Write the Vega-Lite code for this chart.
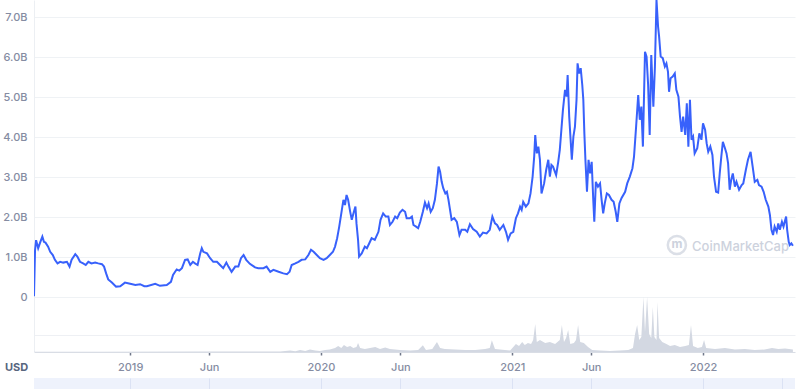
{
  "$schema": "https://vega.github.io/schema/vega-lite/v6.json",
  "padding": {"left": 0, "top": 0, "right": 5, "bottom": 0},
  "background": "white",
  "bounds": "flush",
  "spacing": 26,
  "config": {"view": {"stroke": null}, "font": "Inter"},
  "datasets": {
    "price": [
      {"date": "2018-07-01", "cap": 0.02}, {"date": "2018-07-03", "cap": 1.17}, {"date": "2018-07-05", "cap": 1.42}, {"date": "2018-07-09", "cap": 1.22},
      {"date": "2018-07-13", "cap": 1.37}, {"date": "2018-07-17", "cap": 1.51}, {"date": "2018-07-20", "cap": 1.38}, {"date": "2018-07-23", "cap": 1.36},
      {"date": "2018-07-28", "cap": 1.26}, {"date": "2018-08-01", "cap": 1.13}, {"date": "2018-08-06", "cap": 1.05}, {"date": "2018-08-10", "cap": 0.93},
      {"date": "2018-08-15", "cap": 0.84}, {"date": "2018-08-20", "cap": 0.88}, {"date": "2018-08-26", "cap": 0.86}, {"date": "2018-09-02", "cap": 0.88},
      {"date": "2018-09-07", "cap": 0.76}, {"date": "2018-09-11", "cap": 0.93}, {"date": "2018-09-18", "cap": 1.07}, {"date": "2018-09-22", "cap": 1.01},
      {"date": "2018-09-27", "cap": 0.88}, {"date": "2018-10-03", "cap": 0.84}, {"date": "2018-10-08", "cap": 0.80}, {"date": "2018-10-13", "cap": 0.88},
      {"date": "2018-10-19", "cap": 0.84}, {"date": "2018-10-26", "cap": 0.86}, {"date": "2018-11-01", "cap": 0.84}, {"date": "2018-11-08", "cap": 0.82},
      {"date": "2018-11-12", "cap": 0.76}, {"date": "2018-11-16", "cap": 0.59}, {"date": "2018-11-20", "cap": 0.44}, {"date": "2018-11-27", "cap": 0.36},
      {"date": "2018-12-05", "cap": 0.26}, {"date": "2018-12-13", "cap": 0.27}, {"date": "2018-12-22", "cap": 0.36}, {"date": "2019-01-01", "cap": 0.33},
      {"date": "2019-01-11", "cap": 0.30}, {"date": "2019-01-20", "cap": 0.32}, {"date": "2019-01-28", "cap": 0.27}, {"date": "2019-02-02", "cap": 0.27},
      {"date": "2019-02-18", "cap": 0.33}, {"date": "2019-02-27", "cap": 0.28}, {"date": "2019-03-12", "cap": 0.30}, {"date": "2019-03-20", "cap": 0.38},
      {"date": "2019-03-24", "cap": 0.55}, {"date": "2019-03-28", "cap": 0.63}, {"date": "2019-03-31", "cap": 0.69}, {"date": "2019-04-05", "cap": 0.66},
      {"date": "2019-04-10", "cap": 0.72}, {"date": "2019-04-16", "cap": 0.93}, {"date": "2019-04-21", "cap": 0.94}, {"date": "2019-04-26", "cap": 0.80},
      {"date": "2019-05-01", "cap": 0.88}, {"date": "2019-05-05", "cap": 0.84}, {"date": "2019-05-10", "cap": 0.80}, {"date": "2019-05-15", "cap": 1.09},
      {"date": "2019-05-18", "cap": 1.22}, {"date": "2019-05-21", "cap": 1.13}, {"date": "2019-05-28", "cap": 1.09}, {"date": "2019-06-03", "cap": 0.97},
      {"date": "2019-06-09", "cap": 0.88}, {"date": "2019-06-16", "cap": 0.88}, {"date": "2019-06-22", "cap": 0.80}, {"date": "2019-06-28", "cap": 0.72},
      {"date": "2019-07-04", "cap": 0.86}, {"date": "2019-07-08", "cap": 0.76}, {"date": "2019-07-14", "cap": 0.63}, {"date": "2019-07-21", "cap": 0.76},
      {"date": "2019-07-27", "cap": 0.76}, {"date": "2019-08-01", "cap": 0.97}, {"date": "2019-08-06", "cap": 1.05}, {"date": "2019-08-11", "cap": 0.93},
      {"date": "2019-08-18", "cap": 0.83}, {"date": "2019-08-26", "cap": 0.76}, {"date": "2019-08-28", "cap": 0.74}, {"date": "2019-09-03", "cap": 0.72},
      {"date": "2019-09-13", "cap": 0.72}, {"date": "2019-09-19", "cap": 0.76}, {"date": "2019-09-26", "cap": 0.63}, {"date": "2019-10-02", "cap": 0.68},
      {"date": "2019-10-12", "cap": 0.63}, {"date": "2019-10-21", "cap": 0.59}, {"date": "2019-10-28", "cap": 0.57}, {"date": "2019-11-02", "cap": 0.63},
      {"date": "2019-11-06", "cap": 0.80}, {"date": "2019-11-13", "cap": 0.84}, {"date": "2019-11-19", "cap": 0.88}, {"date": "2019-11-25", "cap": 0.93},
      {"date": "2019-12-02", "cap": 0.94}, {"date": "2019-12-08", "cap": 1.05}, {"date": "2019-12-13", "cap": 1.18}, {"date": "2019-12-18", "cap": 1.13},
      {"date": "2019-12-24", "cap": 1.05}, {"date": "2019-12-30", "cap": 0.97}, {"date": "2020-01-06", "cap": 0.93}, {"date": "2020-01-12", "cap": 0.97},
      {"date": "2020-01-18", "cap": 1.05}, {"date": "2020-01-24", "cap": 1.13}, {"date": "2020-01-28", "cap": 1.26}, {"date": "2020-02-01", "cap": 1.47},
      {"date": "2020-02-05", "cap": 1.76}, {"date": "2020-02-10", "cap": 2.18}, {"date": "2020-02-13", "cap": 2.43}, {"date": "2020-02-16", "cap": 2.30},
      {"date": "2020-02-19", "cap": 2.55}, {"date": "2020-02-22", "cap": 2.43}, {"date": "2020-02-26", "cap": 2.13}, {"date": "2020-02-29", "cap": 1.93},
      {"date": "2020-03-04", "cap": 2.13}, {"date": "2020-03-07", "cap": 2.26}, {"date": "2020-03-09", "cap": 1.84}, {"date": "2020-03-12", "cap": 1.43},
      {"date": "2020-03-14", "cap": 1.01}, {"date": "2020-03-19", "cap": 1.09}, {"date": "2020-03-25", "cap": 1.26}, {"date": "2020-03-29", "cap": 1.22},
      {"date": "2020-04-07", "cap": 1.47}, {"date": "2020-04-13", "cap": 1.43}, {"date": "2020-04-20", "cap": 1.63}, {"date": "2020-04-24", "cap": 1.93},
      {"date": "2020-04-29", "cap": 2.09}, {"date": "2020-05-04", "cap": 2.01}, {"date": "2020-05-09", "cap": 2.01}, {"date": "2020-05-12", "cap": 1.80},
      {"date": "2020-05-17", "cap": 1.88}, {"date": "2020-05-22", "cap": 2.01}, {"date": "2020-05-26", "cap": 1.97}, {"date": "2020-05-31", "cap": 2.11},
      {"date": "2020-06-05", "cap": 2.18}, {"date": "2020-06-10", "cap": 2.13}, {"date": "2020-06-13", "cap": 1.97}, {"date": "2020-06-19", "cap": 1.97},
      {"date": "2020-06-23", "cap": 2.01}, {"date": "2020-06-26", "cap": 1.80}, {"date": "2020-07-01", "cap": 1.76}, {"date": "2020-07-05", "cap": 1.72},
      {"date": "2020-07-09", "cap": 1.88}, {"date": "2020-07-14", "cap": 2.13}, {"date": "2020-07-18", "cap": 2.36}, {"date": "2020-07-22", "cap": 2.22},
      {"date": "2020-07-25", "cap": 2.34}, {"date": "2020-07-29", "cap": 2.13}, {"date": "2020-08-02", "cap": 2.22}, {"date": "2020-08-06", "cap": 2.43},
      {"date": "2020-08-10", "cap": 2.84}, {"date": "2020-08-13", "cap": 3.26}, {"date": "2020-08-16", "cap": 3.13}, {"date": "2020-08-19", "cap": 2.88},
      {"date": "2020-08-22", "cap": 2.72}, {"date": "2020-08-26", "cap": 2.59}, {"date": "2020-08-29", "cap": 2.63}, {"date": "2020-09-01", "cap": 2.43},
      {"date": "2020-09-04", "cap": 2.18}, {"date": "2020-09-07", "cap": 1.93}, {"date": "2020-09-12", "cap": 1.97}, {"date": "2020-09-17", "cap": 1.88},
      {"date": "2020-09-22", "cap": 1.55}, {"date": "2020-09-26", "cap": 1.68}, {"date": "2020-10-03", "cap": 1.68}, {"date": "2020-10-07", "cap": 1.63},
      {"date": "2020-10-12", "cap": 1.82}, {"date": "2020-10-18", "cap": 1.70}, {"date": "2020-10-25", "cap": 1.63}, {"date": "2020-10-31", "cap": 1.51},
      {"date": "2020-11-06", "cap": 1.61}, {"date": "2020-11-13", "cap": 1.59}, {"date": "2020-11-19", "cap": 1.68}, {"date": "2020-11-24", "cap": 2.01},
      {"date": "2020-11-29", "cap": 1.84}, {"date": "2020-12-03", "cap": 1.80}, {"date": "2020-12-08", "cap": 1.68}, {"date": "2020-12-15", "cap": 1.80},
      {"date": "2020-12-20", "cap": 1.63}, {"date": "2020-12-24", "cap": 1.43}, {"date": "2020-12-29", "cap": 1.59}, {"date": "2021-01-03", "cap": 1.63},
      {"date": "2021-01-08", "cap": 1.97}, {"date": "2021-01-12", "cap": 2.09}, {"date": "2021-01-16", "cap": 2.26}, {"date": "2021-01-19", "cap": 2.18},
      {"date": "2021-01-22", "cap": 2.38}, {"date": "2021-01-27", "cap": 2.26}, {"date": "2021-02-01", "cap": 2.34}, {"date": "2021-02-05", "cap": 2.59},
      {"date": "2021-02-09", "cap": 3.01}, {"date": "2021-02-12", "cap": 3.51}, {"date": "2021-02-14", "cap": 4.05}, {"date": "2021-02-17", "cap": 3.59},
      {"date": "2021-02-20", "cap": 3.76}, {"date": "2021-02-23", "cap": 3.43}, {"date": "2021-02-26", "cap": 2.59}, {"date": "2021-03-03", "cap": 2.84},
      {"date": "2021-03-07", "cap": 3.18}, {"date": "2021-03-11", "cap": 3.43}, {"date": "2021-03-14", "cap": 3.01}, {"date": "2021-03-17", "cap": 3.30},
      {"date": "2021-03-20", "cap": 3.26}, {"date": "2021-03-26", "cap": 3.05}, {"date": "2021-03-30", "cap": 3.38}, {"date": "2021-04-02", "cap": 3.68},
      {"date": "2021-04-05", "cap": 4.18}, {"date": "2021-04-08", "cap": 4.68}, {"date": "2021-04-12", "cap": 5.18}, {"date": "2021-04-15", "cap": 5.01},
      {"date": "2021-04-17", "cap": 5.55}, {"date": "2021-04-20", "cap": 4.51}, {"date": "2021-04-25", "cap": 3.43}, {"date": "2021-04-28", "cap": 4.01},
      {"date": "2021-05-01", "cap": 4.26}, {"date": "2021-05-04", "cap": 4.93}, {"date": "2021-05-06", "cap": 5.84}, {"date": "2021-05-09", "cap": 5.59},
      {"date": "2021-05-12", "cap": 5.72}, {"date": "2021-05-15", "cap": 5.30}, {"date": "2021-05-17", "cap": 4.93}, {"date": "2021-05-19", "cap": 4.09},
      {"date": "2021-05-21", "cap": 3.43}, {"date": "2021-05-24", "cap": 2.63}, {"date": "2021-05-27", "cap": 3.43}, {"date": "2021-05-30", "cap": 3.09},
      {"date": "2021-06-02", "cap": 3.38}, {"date": "2021-06-05", "cap": 2.43}, {"date": "2021-06-07", "cap": 1.88}, {"date": "2021-06-10", "cap": 2.88},
      {"date": "2021-06-14", "cap": 2.76}, {"date": "2021-06-18", "cap": 2.84}, {"date": "2021-06-21", "cap": 2.43}, {"date": "2021-06-24", "cap": 2.09},
      {"date": "2021-06-27", "cap": 2.34}, {"date": "2021-07-01", "cap": 2.59}, {"date": "2021-07-05", "cap": 2.55}, {"date": "2021-07-10", "cap": 2.43},
      {"date": "2021-07-14", "cap": 2.38}, {"date": "2021-07-18", "cap": 2.13}, {"date": "2021-07-21", "cap": 1.88}, {"date": "2021-07-25", "cap": 2.34},
      {"date": "2021-07-29", "cap": 2.47}, {"date": "2021-08-05", "cap": 2.63}, {"date": "2021-08-09", "cap": 2.84}, {"date": "2021-08-14", "cap": 3.01},
      {"date": "2021-08-19", "cap": 3.22}, {"date": "2021-08-22", "cap": 3.51}, {"date": "2021-08-26", "cap": 4.26}, {"date": "2021-08-30", "cap": 5.05},
      {"date": "2021-09-02", "cap": 4.43}, {"date": "2021-09-05", "cap": 4.76}, {"date": "2021-09-08", "cap": 3.76}, {"date": "2021-09-12", "cap": 6.13},
      {"date": "2021-09-15", "cap": 6.01}, {"date": "2021-09-18", "cap": 5.30}, {"date": "2021-09-21", "cap": 4.05}, {"date": "2021-09-24", "cap": 6.05},
      {"date": "2021-09-28", "cap": 4.76}, {"date": "2021-10-01", "cap": 5.76}, {"date": "2021-10-04", "cap": 7.43}, {"date": "2021-10-07", "cap": 6.76},
      {"date": "2021-10-09", "cap": 6.51}, {"date": "2021-10-12", "cap": 6.01}, {"date": "2021-10-16", "cap": 5.97}, {"date": "2021-10-20", "cap": 5.76},
      {"date": "2021-10-23", "cap": 5.84}, {"date": "2021-10-26", "cap": 5.63}, {"date": "2021-10-28", "cap": 5.13}, {"date": "2021-10-31", "cap": 5.47},
      {"date": "2021-11-04", "cap": 5.51}, {"date": "2021-11-08", "cap": 5.59}, {"date": "2021-11-11", "cap": 5.18}, {"date": "2021-11-15", "cap": 5.01},
      {"date": "2021-11-18", "cap": 4.51}, {"date": "2021-11-21", "cap": 4.13}, {"date": "2021-11-24", "cap": 4.51}, {"date": "2021-11-28", "cap": 4.05},
      {"date": "2021-12-01", "cap": 4.84}, {"date": "2021-12-04", "cap": 3.76}, {"date": "2021-12-07", "cap": 4.93}, {"date": "2021-12-10", "cap": 3.93},
      {"date": "2021-12-13", "cap": 4.01}, {"date": "2021-12-16", "cap": 3.59}, {"date": "2021-12-21", "cap": 3.72}, {"date": "2021-12-25", "cap": 4.09},
      {"date": "2021-12-29", "cap": 3.93}, {"date": "2022-01-01", "cap": 4.34}, {"date": "2022-01-05", "cap": 4.18}, {"date": "2022-01-08", "cap": 3.84},
      {"date": "2022-01-11", "cap": 3.63}, {"date": "2022-01-15", "cap": 3.76}, {"date": "2022-01-19", "cap": 3.55}, {"date": "2022-01-22", "cap": 3.01},
      {"date": "2022-01-26", "cap": 2.63}, {"date": "2022-01-30", "cap": 2.61}, {"date": "2022-02-02", "cap": 3.09}, {"date": "2022-02-05", "cap": 3.51},
      {"date": "2022-02-08", "cap": 3.88}, {"date": "2022-02-12", "cap": 3.72}, {"date": "2022-02-15", "cap": 3.59}, {"date": "2022-02-18", "cap": 3.34},
      {"date": "2022-02-21", "cap": 2.68}, {"date": "2022-02-24", "cap": 2.93}, {"date": "2022-02-27", "cap": 3.09}, {"date": "2022-03-03", "cap": 2.76},
      {"date": "2022-03-06", "cap": 2.88}, {"date": "2022-03-11", "cap": 2.68}, {"date": "2022-03-16", "cap": 2.80}, {"date": "2022-03-19", "cap": 2.84},
      {"date": "2022-03-24", "cap": 3.18}, {"date": "2022-03-28", "cap": 3.43}, {"date": "2022-04-02", "cap": 3.63}, {"date": "2022-04-06", "cap": 3.26},
      {"date": "2022-04-10", "cap": 2.88}, {"date": "2022-04-15", "cap": 2.93}, {"date": "2022-04-18", "cap": 2.80}, {"date": "2022-04-23", "cap": 2.76},
      {"date": "2022-04-27", "cap": 2.63}, {"date": "2022-05-01", "cap": 2.43}, {"date": "2022-05-06", "cap": 2.26}, {"date": "2022-05-09", "cap": 2.05},
      {"date": "2022-05-12", "cap": 1.68}, {"date": "2022-05-15", "cap": 1.55}, {"date": "2022-05-18", "cap": 1.76}, {"date": "2022-05-22", "cap": 1.63},
      {"date": "2022-05-25", "cap": 1.84}, {"date": "2022-05-28", "cap": 1.68}, {"date": "2022-06-01", "cap": 1.88}, {"date": "2022-06-04", "cap": 1.76},
      {"date": "2022-06-09", "cap": 2.01}, {"date": "2022-06-11", "cap": 1.68}, {"date": "2022-06-14", "cap": 1.38}, {"date": "2022-06-16", "cap": 1.30},
      {"date": "2022-06-19", "cap": 1.34}, {"date": "2022-06-22", "cap": 1.28}
    ],
    "volume": [
      {"date": "2018-07-01", "volume": 0.012}, {"date": "2018-11-05", "volume": 0.018}, {"date": "2019-05-15", "volume": 0.024}, {"date": "2019-10-15", "volume": 0.03},
      {"date": "2019-11-03", "volume": 0.089}, {"date": "2019-11-13", "volume": 0.047}, {"date": "2019-11-22", "volume": 0.118}, {"date": "2019-12-02", "volume": 0.059},
      {"date": "2019-12-11", "volume": 0.148}, {"date": "2019-12-21", "volume": 0.089}, {"date": "2019-12-30", "volume": 0.059}, {"date": "2020-01-09", "volume": 0.118},
      {"date": "2020-01-18", "volume": 0.148}, {"date": "2020-01-28", "volume": 0.236}, {"date": "2020-02-03", "volume": 0.354}, {"date": "2020-02-09", "volume": 0.236},
      {"date": "2020-02-14", "volume": 0.413}, {"date": "2020-02-20", "volume": 0.295}, {"date": "2020-02-26", "volume": 0.354}, {"date": "2020-03-03", "volume": 0.236},
      {"date": "2020-03-09", "volume": 0.295}, {"date": "2020-03-12", "volume": 0.531}, {"date": "2020-03-16", "volume": 0.236}, {"date": "2020-03-25", "volume": 0.177},
      {"date": "2020-04-04", "volume": 0.236}, {"date": "2020-04-14", "volume": 0.295}, {"date": "2020-04-23", "volume": 0.177}, {"date": "2020-05-03", "volume": 0.266},
      {"date": "2020-05-12", "volume": 0.177}, {"date": "2020-05-22", "volume": 0.148}, {"date": "2020-05-31", "volume": 0.118}, {"date": "2020-06-20", "volume": 0.089},
      {"date": "2020-07-05", "volume": 0.118}, {"date": "2020-07-14", "volume": 0.395}, {"date": "2020-07-20", "volume": 0.118}, {"date": "2020-08-01", "volume": 0.177},
      {"date": "2020-08-10", "volume": 0.59}, {"date": "2020-08-16", "volume": 0.236}, {"date": "2020-08-25", "volume": 0.177}, {"date": "2020-09-14", "volume": 0.148},
      {"date": "2020-10-03", "volume": 0.118}, {"date": "2020-10-22", "volume": 0.118}, {"date": "2020-11-10", "volume": 0.177}, {"date": "2020-11-19", "volume": 0.236},
      {"date": "2020-11-23", "volume": 0.69}, {"date": "2020-11-29", "volume": 0.177}, {"date": "2020-12-18", "volume": 0.118}, {"date": "2020-12-28", "volume": 0.089},
      {"date": "2021-01-03", "volume": 0.295}, {"date": "2021-01-08", "volume": 0.472}, {"date": "2021-01-14", "volume": 0.354}, {"date": "2021-01-20", "volume": 0.59},
      {"date": "2021-01-25", "volume": 0.413}, {"date": "2021-01-31", "volume": 0.531}, {"date": "2021-02-06", "volume": 0.472}, {"date": "2021-02-10", "volume": 0.708},
      {"date": "2021-02-14", "volume": 1.652}, {"date": "2021-02-17", "volume": 0.59}, {"date": "2021-02-23", "volume": 0.708}, {"date": "2021-03-05", "volume": 0.531},
      {"date": "2021-03-14", "volume": 0.59}, {"date": "2021-03-24", "volume": 0.472}, {"date": "2021-04-02", "volume": 0.708}, {"date": "2021-04-06", "volume": 1.593},
      {"date": "2021-04-10", "volume": 0.59}, {"date": "2021-04-14", "volume": 0.826}, {"date": "2021-04-18", "volume": 1.298}, {"date": "2021-04-22", "volume": 0.472},
      {"date": "2021-04-29", "volume": 0.531}, {"date": "2021-05-03", "volume": 0.708}, {"date": "2021-05-07", "volume": 1.593}, {"date": "2021-05-11", "volume": 0.59},
      {"date": "2021-05-18", "volume": 0.531}, {"date": "2021-05-26", "volume": 0.295}, {"date": "2021-06-03", "volume": 0.118}, {"date": "2021-06-18", "volume": 0.089},
      {"date": "2021-07-07", "volume": 0.059}, {"date": "2021-07-26", "volume": 0.089}, {"date": "2021-08-11", "volume": 0.118}, {"date": "2021-08-20", "volume": 0.236},
      {"date": "2021-08-24", "volume": 1.062}, {"date": "2021-08-28", "volume": 1.593}, {"date": "2021-09-01", "volume": 0.708}, {"date": "2021-09-05", "volume": 0.885},
      {"date": "2021-09-09", "volume": 3.245}, {"date": "2021-09-12", "volume": 1.18}, {"date": "2021-09-16", "volume": 3.245}, {"date": "2021-09-20", "volume": 1.062},
      {"date": "2021-09-24", "volume": 0.826}, {"date": "2021-09-27", "volume": 2.655}, {"date": "2021-09-30", "volume": 0.885}, {"date": "2021-10-04", "volume": 0.708},
      {"date": "2021-10-06", "volume": 2.95}, {"date": "2021-10-09", "volume": 0.826}, {"date": "2021-10-15", "volume": 0.59}, {"date": "2021-10-23", "volume": 0.472},
      {"date": "2021-10-30", "volume": 0.354}, {"date": "2021-11-08", "volume": 0.413}, {"date": "2021-11-18", "volume": 0.295}, {"date": "2021-11-28", "volume": 0.354},
      {"date": "2021-12-05", "volume": 0.413}, {"date": "2021-12-09", "volume": 1.593}, {"date": "2021-12-13", "volume": 0.354}, {"date": "2021-12-22", "volume": 0.236},
      {"date": "2021-12-30", "volume": 0.295}, {"date": "2022-01-03", "volume": 0.708}, {"date": "2022-01-07", "volume": 0.236}, {"date": "2022-01-24", "volume": 0.177},
      {"date": "2022-02-12", "volume": 0.236}, {"date": "2022-03-03", "volume": 0.148}, {"date": "2022-03-22", "volume": 0.177}, {"date": "2022-04-10", "volume": 0.118},
      {"date": "2022-04-29", "volume": 0.148}, {"date": "2022-05-13", "volume": 0.236}, {"date": "2022-05-25", "volume": 0.177}, {"date": "2022-06-07", "volume": 0.207},
      {"date": "2022-06-22", "volume": 0.148}
    ]
  },
  "vconcat": [
    {
      "width": 761,
      "height": 352,
      "layer": [
        {
          "data": {"name": "volume"},
          "mark": {"type": "area", "color": "#d3d8e2", "interpolate": "linear"},
          "encoding": {
            "x": {
              "field": "date", "type": "temporal",
              "scale": {"type": "utc", "domain": [{"year": 2018, "month": 7, "date": 1, "utc": true}, {"year": 2022, "month": 6, "date": 26, "utc": true}]},
              "axis": {
                "values": [
                  {"year": 2019, "month": 1, "date": 1, "utc": true}, {"year": 2019, "month": 6, "date": 1, "utc": true},
                  {"year": 2020, "month": 1, "date": 1, "utc": true}, {"year": 2020, "month": 6, "date": 1, "utc": true},
                  {"year": 2021, "month": 1, "date": 1, "utc": true}, {"year": 2021, "month": 6, "date": 1, "utc": true},
                  {"year": 2022, "month": 1, "date": 1, "utc": true}
                ],
                "labelExpr": "utcFormat(datum.value, '%m') == '01' ? utcFormat(datum.value, '%Y') : utcFormat(datum.value, '%b')",
                "grid": false, "domainColor": "#d9dde5", "tickColor": "#6f7789", "tickSize": 3, "tickWidth": 1.5,
                "labelPadding": 6, "labelFontSize": 11, "labelColor": "#858ca2", "labelFontWeight": 500, "labelFlush": false,
                "title": "USD", "titleX": -18, "titleY": 15, "titleAlign": "center", "titleBaseline": "middle",
                "titleFontSize": 11, "titleFontWeight": 700, "titleColor": "#58667e", "titleAnchor": null
              }
            },
            "y": {
              "field": "volume", "type": "quantitative",
              "scale": {"domain": [0, 20.77]},
              "axis": {"orient": "right", "values": [1], "grid": true, "gridColor": "#eef0f4", "labels": false, "ticks": false, "domain": false, "title": null, "minExtent": 0, "maxExtent": 0}
            }
          }
        },
        {
          "layer": [
            {
              "data": {"values": [{}]},
              "mark": {"type": "point", "shape": "circle", "filled": false, "size": 330, "stroke": "#cdd2dd", "strokeWidth": 2.5},
              "encoding": {
                "x": {"datum": {"year": 2021, "month": 11, "date": 12, "utc": true}, "type": "temporal"},
                "y": {"datum": 1.3, "type": "quantitative", "scale": {"domain": [-1.375, 7.425]}}
              }
            },
            {
              "data": {"values": [{}]},
              "mark": {"type": "text", "text": "m", "align": "center", "baseline": "middle", "fontSize": 12, "fontWeight": 700, "color": "#cdd2dd"},
              "encoding": {
                "x": {"datum": {"year": 2021, "month": 11, "date": 12, "utc": true}, "type": "temporal"},
                "y": {"datum": 1.32, "type": "quantitative", "scale": {"domain": [-1.375, 7.425]}}
              }
            },
            {
              "data": {"values": [{}]},
              "mark": {"type": "text", "text": "CoinMarketCap", "align": "left", "baseline": "middle", "fontSize": 13, "fontWeight": 500, "color": "#cdd2dd", "font": "Inter"},
              "encoding": {
                "x": {"datum": {"year": 2021, "month": 12, "date": 11, "utc": true}, "type": "temporal"},
                "y": {"datum": 1.25, "type": "quantitative", "scale": {"domain": [-1.375, 7.425]}}
              }
            },
            {
              "data": {"name": "price"},
              "mark": {"type": "line", "color": "#3861fb", "strokeWidth": 2, "clip": true},
              "encoding": {
                "x": {"field": "date", "type": "temporal"},
                "y": {
                  "field": "cap", "type": "quantitative",
                  "scale": {"domain": [-1.375, 7.425]},
                  "axis": {
                    "orient": "left", "values": [0, 1, 2, 3, 4, 5, 6, 7],
                    "labelExpr": "datum.value == 0 ? '0' : format(datum.value, '.1f') + 'B'",
                    "grid": true, "gridColor": "#eff2f5", "ticks": false, "domain": true, "domainColor": "#eceff3",
                    "labelPadding": 7, "labelFontSize": 11, "labelColor": "#858ca2", "labelFontWeight": 500,
                    "title": null, "minExtent": 34, "maxExtent": 34
                  }
                }
              }
            }
          ]
        }
      ],
      "resolve": {"scale": {"y": "independent"}, "axis": {"y": "independent"}}
    },
    {
      "width": 761,
      "height": 11,
      "data": {"values": [{}]},
      "mark": {"type": "rect", "color": "#eef2fc"},
      "encoding": {
        "x": {
          "datum": {"year": 2018, "month": 7, "date": 1, "utc": true}, "type": "temporal",
          "scale": {"type": "utc", "domain": [{"year": 2018, "month": 7, "date": 1, "utc": true}, {"year": 2022, "month": 6, "date": 26, "utc": true}]},
          "axis": {
            "values": [
              {"year": 2019, "month": 1, "date": 1, "utc": true}, {"year": 2019, "month": 6, "date": 1, "utc": true},
              {"year": 2020, "month": 1, "date": 1, "utc": true}, {"year": 2020, "month": 6, "date": 1, "utc": true},
              {"year": 2021, "month": 1, "date": 1, "utc": true}, {"year": 2021, "month": 6, "date": 1, "utc": true},
              {"year": 2022, "month": 1, "date": 1, "utc": true}, {"year": 2022, "month": 6, "date": 1, "utc": true}
            ],
            "grid": true, "gridColor": "#dbe2f4", "labels": false, "ticks": false, "domain": false, "title": null, "zindex": 1
          }
        },
        "x2": {"datum": {"year": 2022, "month": 6, "date": 26, "utc": true}}
      }
    }
  ]
}
